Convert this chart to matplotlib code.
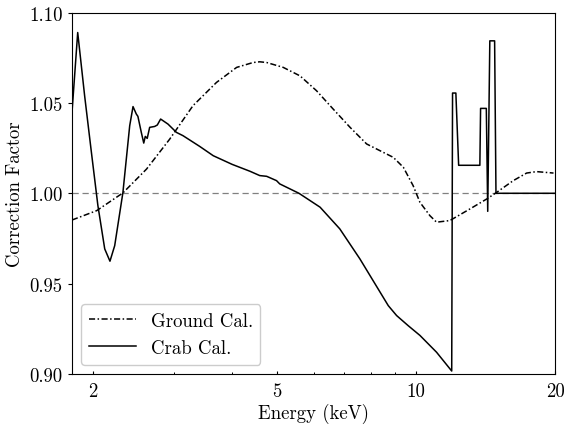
import matplotlib
matplotlib.use("Agg")
import matplotlib.pyplot as plt
from matplotlib.ticker import FixedLocator, FixedFormatter, FormatStrFormatter, NullFormatter

plt.rcParams['font.family'] = 'serif'
plt.rcParams['font.serif'] = ['cmr10']
plt.rcParams['mathtext.fontset'] = 'cm'
plt.rcParams['axes.unicode_minus'] = False
plt.rcParams['axes.formatter.use_mathtext'] = True

# Ground calibration correction factor
ground_E = [1.80, 2.036, 2.32, 2.61, 2.93, 3.29, 3.70, 4.09, 4.44, 4.59, 4.75, 5.16, 5.61,
            6.09, 6.62, 7.20, 7.82, 8.49, 8.93, 9.39, 9.86, 10.2, 10.72, 11.08, 11.84,
            13.08, 14.22, 14.95, 16.24, 17.36, 18.24, 19.85]
ground_cf = [0.9852, 0.9904, 1.0002, 1.0134, 1.030, 1.0485, 1.0614, 1.0697, 1.0724, 1.0728,
             1.0724, 1.0697, 1.065, 1.0568, 1.0466, 1.0365, 1.0273, 1.0227, 1.0199, 1.0144,
             1.0042, 0.995, 0.9876, 0.984, 0.9849, 0.9913, 0.9968, 1.0005, 1.007, 1.0112,
             1.012, 1.0112]

# Crab calibration correction factor
crab_E = [1.80, 1.852, 1.917, 1.98, 2.048, 2.119, 2.175, 2.227, 2.32, 2.40, 2.44, 2.48, 2.50,
          2.543, 2.574, 2.594, 2.619, 2.651, 2.718, 2.754, 2.80, 2.905, 3.03, 3.13, 3.40, 3.64,
          4.0, 4.37, 4.59, 4.75, 4.99, 5.07, 5.58, 6.20, 6.84, 7.56, 8.36, 8.71, 9.08, 9.62,
          10.20, 11.08, 11.95, 12.0, 12.2, 12.37, 13.75, 13.8, 14.2, 14.3, 14.45, 14.8, 14.9,
          20.0]
crab_cf = [1.0448, 1.089, 1.054, 1.024, 0.9932, 0.9692, 0.9624, 0.971, 1.0004, 1.0374, 1.048,
           1.0439, 1.0426, 1.0337, 1.0278, 1.0315, 1.0304, 1.0365, 1.037, 1.0378, 1.0411,
           1.0383, 1.0337, 1.0319, 1.026, 1.0208, 1.016, 1.0122, 1.0098, 1.0094, 1.007, 1.0052,
           1.0, 0.9923, 0.9803, 0.9637, 0.9453, 0.9378, 0.9323, 0.9267, 0.9213, 0.912, 0.9016,
           1.0555, 1.0555, 1.0155, 1.0155, 1.047, 1.047, 0.990, 1.0844, 1.0844, 1.0, 1.0]

x_major = [2, 5, 10, 20]
x_major_labels = ['2', '5', '10', '20']
x_minor = [3, 4, 6, 7, 8, 9]
y_ticks = [0.90, 0.95, 1.00, 1.05, 1.10]

fig = plt.figure(figsize=(5.66, 4.27), dpi=100)
ax = fig.add_axes([0.1272, 0.122, 0.9806 - 0.1272, 0.968 - 0.122])

ax.axhline(1.0, color='0.5', lw=0.9, ls=(0, (5, 3)))
ax.plot(ground_E, ground_cf, color='black', lw=1.1, ls=(0, (4.0, 1.6, 1.0, 1.6)),
        label='Ground Cal.')
ax.plot(crab_E, crab_cf, color='black', lw=1.1, ls='-', label='Crab Cal.')

ax.set_xscale('log')
ax.set_xlim(1.8, 20)
ax.set_ylim(0.90, 1.10)
ax.xaxis.set_major_locator(FixedLocator(x_major))
ax.xaxis.set_major_formatter(FixedFormatter(x_major_labels))
ax.xaxis.set_minor_locator(FixedLocator(x_minor))
ax.xaxis.set_minor_formatter(NullFormatter())
ax.yaxis.set_major_locator(FixedLocator(y_ticks))
ax.yaxis.set_major_formatter(FormatStrFormatter('%.2f'))

fs = 13.5
ax.tick_params(axis='x', which='major', direction='in', length=2.2, width=0.8, labelsize=fs, pad=6)
ax.tick_params(axis='x', which='minor', direction='in', length=1.6, width=0.7)
ax.tick_params(axis='y', which='major', direction='out', length=3.2, width=0.8, labelsize=fs)
for s in ax.spines.values():
    s.set_linewidth(0.8)

ax.set_xlabel('Energy (keV)', fontsize=fs, labelpad=2)
ax.set_ylabel('Correction Factor', fontsize=fs, labelpad=4)

leg = ax.legend(loc='lower left', fontsize=fs, handlelength=2.5, frameon=True,
                fancybox=True, edgecolor='0.8', framealpha=1.0)

fig.savefig('out.png', dpi=100)
